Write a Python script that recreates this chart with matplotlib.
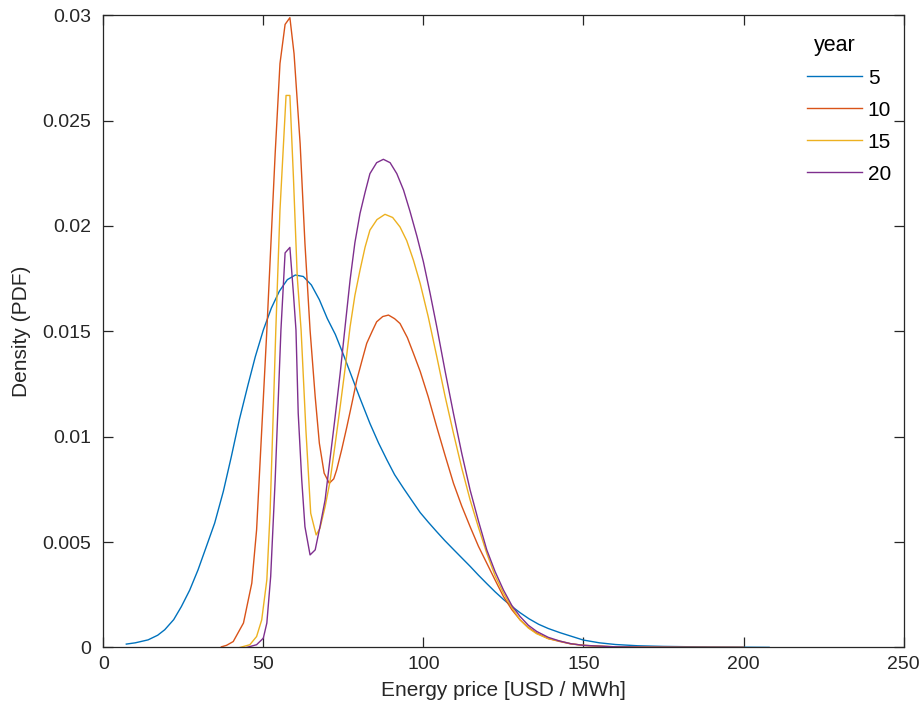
import matplotlib
matplotlib.use("Agg")
import matplotlib.pyplot as plt

plt.rcParams['font.family'] = ['Liberation Sans', 'DejaVu Sans']

# year 5
x5 = [7.2, 10, 14, 17, 19.2, 22, 24.4, 27, 29.6, 32, 34.8, 37.5, 40, 42.5, 45.2, 47.5, 50, 52.5, 55,
      57.5, 60, 62.5, 65, 67.5, 70, 72.5, 75, 77.5, 80, 83.3, 86, 88.6, 91, 93.8, 96.5, 99, 101.5, 104,
      106.7, 109.4, 112, 114.6, 117.2, 119.8, 122.4, 125, 127.6, 130.2, 133, 136, 139, 142.7, 150, 155,
      160, 167, 175, 190, 208]
y5 = [0.00016, 0.00022, 0.00036, 0.00058, 0.00084, 0.00132, 0.00194, 0.00272, 0.00368, 0.0047, 0.0059,
      0.0074, 0.00905, 0.0108, 0.01245, 0.0138, 0.01506, 0.0161, 0.0169, 0.01745, 0.01767, 0.0176, 0.0172,
      0.0165, 0.0156, 0.01485, 0.0139, 0.0129, 0.0119, 0.01063, 0.0097, 0.0089, 0.0082, 0.00755, 0.00695,
      0.0064, 0.00595, 0.00552, 0.00507, 0.00465, 0.00425, 0.00385, 0.00343, 0.00303, 0.00264, 0.00228,
      0.00195, 0.00165, 0.00136, 0.0011, 0.0009, 0.0007, 0.00035, 0.00022, 0.00014, 0.00008, 0.00005,
      0.00002, 0.000005]

# year 10
x10 = [36.9, 38.5, 40.6, 43.8, 45.2, 46.4, 47.9, 49.5, 51.1, 53.7, 55.2, 56.8, 58.3, 59.6, 61.5, 63.0,
       64.6, 66.2, 67.5, 69.0, 70.6, 72.0, 72.9, 74.5, 76.1, 77.7, 79.2, 80.8, 82.3, 84, 85.4, 87.3, 89.1,
       91, 92.7, 95, 96.9, 99, 101.5, 104.2, 106.8, 109.4, 112, 114.6, 117.2, 119.8, 122.4, 125, 127.6,
       130.2, 132.8, 135.4, 139, 142.7, 146, 150, 157, 165, 180, 200]
y10 = [0.00003, 0.0001, 0.00028, 0.00116, 0.00218, 0.00305, 0.00558, 0.01032, 0.01506, 0.02343, 0.0277,
       0.02956, 0.02988, 0.02817, 0.0239, 0.01917, 0.01506, 0.0119, 0.00969, 0.00827, 0.00779, 0.0080,
       0.00842, 0.0094, 0.01047, 0.0116, 0.01269, 0.0136, 0.01443, 0.0150, 0.01545, 0.0157, 0.01577,
       0.0156, 0.01537, 0.0147, 0.01395, 0.0131, 0.0119, 0.01045, 0.0091, 0.00779, 0.0067, 0.00573,
       0.0048, 0.004, 0.0032, 0.00242, 0.0018, 0.00131, 0.00095, 0.00068, 0.00042, 0.00028, 0.00017,
       0.0001, 0.00004, 0.00002, 0.000005, 0.0]

# year 15
x15 = [42.7, 45.8, 47.9, 49.5, 51.1, 52.1, 53.1, 53.9, 55.2, 57.1, 58.3, 59.4, 60.6, 61.8, 63.3, 64.8,
       66.5, 67.7, 69.3, 70.8, 72.4, 74, 75.6, 77.1, 78.6, 80.2, 81.8, 83.3, 85.5, 88, 90.4, 92.7, 94.8,
       96.9, 99, 101.5, 104.2, 106.8, 109.4, 112, 114.6, 117.2, 119.8, 122.4, 125, 127.6, 130.2, 132.8,
       135.4, 139, 142.7, 146, 150, 160, 170, 200]
y15 = [0.0, 0.00013, 0.00052, 0.00131, 0.00321, 0.00637, 0.01111, 0.01506, 0.02074, 0.02619, 0.02619,
       0.02232, 0.01758, 0.01506, 0.01032, 0.00637, 0.00534, 0.00566, 0.00668, 0.00785, 0.0096, 0.01142,
       0.0133, 0.01521, 0.0167, 0.0179, 0.0190, 0.0198, 0.0203, 0.02055, 0.0204, 0.01995, 0.0193, 0.01837,
       0.01727, 0.0157, 0.01379, 0.0119, 0.01016, 0.0085, 0.007, 0.0057, 0.00447, 0.0034, 0.00258, 0.0019,
       0.00131, 0.00092, 0.00065, 0.00042, 0.0003, 0.00018, 0.0001, 0.00003, 0.00001, 0.0]

# year 20
x20 = [44.8, 47.9, 50, 51.1, 52.3, 53.7, 54.7, 55.5, 56.8, 58.3, 59.4, 60.2, 60.9, 62, 63, 64.6, 66.2,
       67.7, 69.3, 70.8, 72.4, 74, 75.6, 77.1, 78.6, 80.2, 81.8, 83.3, 85.4, 87.5, 89.6, 91.7, 93.8, 95.8,
       98, 100, 102.1, 104.2, 106.8, 109.4, 112, 114.6, 117.2, 119.8, 122.4, 125, 127.6, 130.2, 132.8,
       135.4, 139, 142.7, 146, 150, 160, 170, 200]
y20 = [0.0, 0.00013, 0.00044, 0.00116, 0.00337, 0.00795, 0.0119, 0.01506, 0.01872, 0.01898, 0.0168,
       0.01506, 0.01111, 0.00795, 0.00573, 0.00439, 0.00463, 0.00573, 0.007, 0.0089, 0.0109, 0.013,
       0.0153, 0.01743, 0.0192, 0.02059, 0.0216, 0.02248, 0.0230, 0.02316, 0.0230, 0.02248, 0.0217,
       0.0207, 0.0195, 0.0183, 0.0168, 0.0152, 0.0131, 0.0111, 0.0092, 0.00747, 0.006, 0.00463, 0.0036,
       0.00273, 0.002, 0.00147, 0.00105, 0.00076, 0.00048, 0.0003, 0.00018, 0.0001, 0.00003, 0.00001, 0.0]

labels = ['5', '10', '15', '20']
colors = ['#0072BD', '#D95319', '#EDB120', '#7E2F8E']

fig = plt.figure(figsize=(9.22, 7.21), dpi=100)
ax = fig.add_axes([0.112, 0.102, 0.868, 0.877])

for xs, ys, lab, c in zip([x5, x10, x15, x20], [y5, y10, y15, y20], labels, colors):
    ax.plot(xs, ys, color=c, lw=1.0, label=lab)

ax.set_xlim(0, 250)
ax.set_ylim(0, 0.03)
ax.set_xticks([0, 50, 100, 150, 200, 250])
ax.set_yticks([0, 0.005, 0.01, 0.015, 0.02, 0.025, 0.03])
ax.set_yticklabels(['0', '0.005', '0.01', '0.015', '0.02', '0.025', '0.03'])

gray = '#262626'
for s in ax.spines.values():
    s.set_color(gray)
    s.set_linewidth(0.9)
ax.tick_params(direction='in', top=True, right=True, length=7, width=0.9,
               colors=gray, labelsize=14, labelcolor=gray)
ax.tick_params(axis='y', pad=9)
ax.tick_params(axis='x', pad=6)

ax.set_xlabel('Energy price [USD / MWh]', fontsize=15, color=gray, labelpad=6)
ax.set_ylabel('Density (PDF)', fontsize=15, color=gray, labelpad=8)

leg = ax.legend(title='year', loc='upper right', bbox_to_anchor=(0.995, 0.982),
                frameon=False, fontsize=15, title_fontsize=15.5, handlelength=2.6,
                handletextpad=0.3, labelspacing=0.62, borderaxespad=0)
leg._legend_box.align = 'left'
leg.get_title().set_position((6, 0))

plt.savefig('out.png', dpi=100)
